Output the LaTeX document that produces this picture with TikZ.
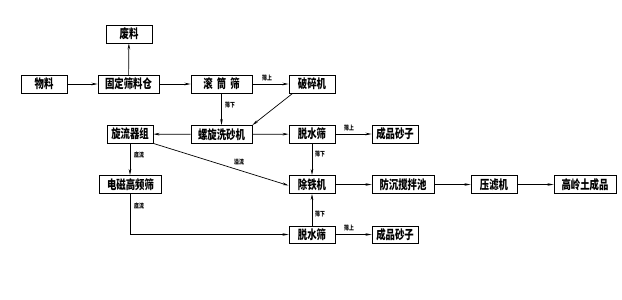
\documentclass[tikz,border=0pt]{standalone}
\usepackage{fontspec}
\setmainfont{Noto Sans CJK SC}[FakeStretch=0.75]
\usetikzlibrary{arrows.meta}
\begin{document}
\begin{tikzpicture}[x=1pt,y=-1pt,
  box/.style={draw,line width=0.9pt,inner sep=0pt,minimum height=18pt,font=\fontsize{12.5}{12.5}\selectfont\bfseries},
  w46/.style={minimum width=46pt},
  w61/.style={minimum width=61pt},
  w63/.style={minimum width=62pt},
  arr/.style={line width=0.7pt,-{Stealth[length=6pt,width=2.6pt]}},
  lbl/.style={font=\fontsize{6.5}{6.5}\selectfont\bfseries,inner sep=0pt}]
\useasboundingbox (0,0) rectangle (622,300);
\node[box,w46] (fl) at (129,34) {废料};
\node[box,w46] (wl) at (44,84) {物料};
\node[box,w61] (gd) at (128.5,84) {固定筛料仓};
\node[box,w61] (gt) at (221.5,84) {滚\,\,筒\,\,筛};
\node[box,w46] (ps) at (312,84) {破碎机};
\node[box,w46] (xl) at (130,134) {旋流器组};
\node[box,w61] (lx) at (221.5,134.5) {螺旋洗砂机};
\node[box,w46] (ts1) at (312,134) {脱水筛};
\node[box,w46] (cp1) at (395,134) {成品砂子};
\node[box,w63] (dc) at (130.5,184.5) {电磁高频筛};
\node[box,w46] (ct) at (312,184.5) {除铁机};
\node[box,w63] (fc) at (403,184.5) {防沉搅拌池};
\node[box,w46] (yl) at (494,184.5) {压滤机};
\node[box,w63] (gl) at (585,184.5) {高岭土成品};
\node[box,w46,minimum height=17pt] (ts2) at (312,234.5) {脱水筛};
\node[box,w46,minimum height=17pt] (cp2) at (395,234.5) {成品砂子};
\coordinate (corner) at (130,234.5);
\draw[arr] (wl) -- (gd);
\draw[arr] (gd) -- (fl);
\draw[arr] (gd) -- (gt);
\draw[arr] (gt) -- (ps);
\draw[arr] (gt) -- (lx);
\draw[arr] ([xshift=4pt]ps.south west) -- (lx.north east);
\draw[arr] (lx) -- (xl);
\draw[arr] (lx) -- (ts1);
\draw[arr] (ts1) -- (cp1);
\draw[arr] (ts1) -- (ct);
\draw[arr] (xl) -- (xl|-dc.north);
\draw[arr] (xl.south east) -- ([yshift=-1pt]ct.west);
\draw[arr] (dc.south-|corner) -- (corner) -- (ts2.west);
\draw[arr] (ts2) -- (ct);
\draw[arr] (ts2) -- (cp2);
\draw[arr] (ct) -- (fc);
\draw[arr] (fc) -- (yl);
\draw[arr] (yl) -- (gl);
\node[lbl] (l1) at (267,78) {筛上};
\node[lbl] (l2) at (230,105) {筛下};
\node[lbl] (l3) at (349,128) {筛上};
\node[lbl] (l4) at (320,154) {筛下};
\node[lbl] (l5) at (139,155) {底流};
\node[lbl] (l6) at (239,162) {溢流};
\node[lbl] (l7) at (139,206) {底流};
\node[lbl] (l8) at (320,214) {筛下};
\node[lbl] (l9) at (349,228) {筛上};
\end{tikzpicture}
\end{document}
